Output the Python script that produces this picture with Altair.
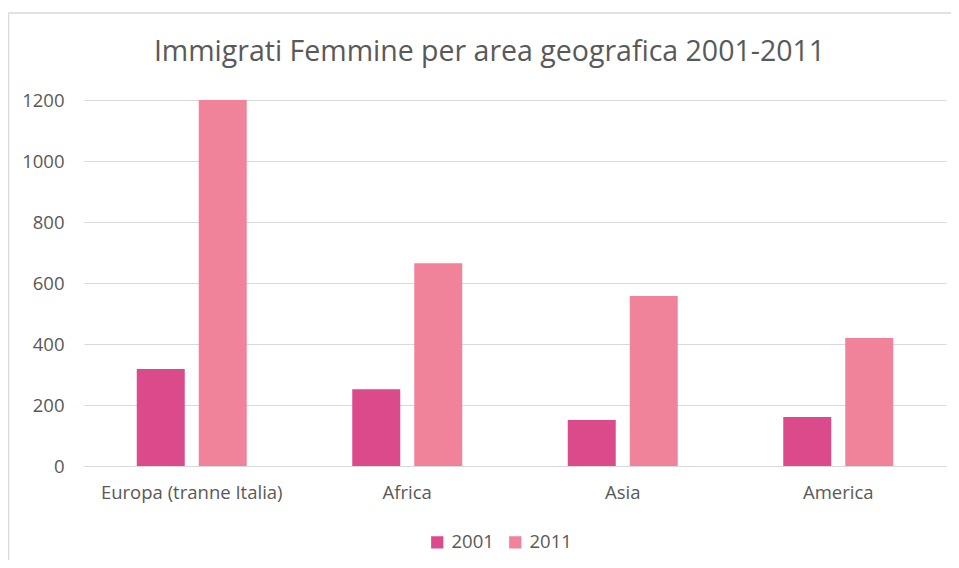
import altair as alt
import pandas as pd

regions = ["Europa (tranne Italia)", "Africa", "Asia", "America"]
years = ["2001", "2011"]
v2001 = [318, 252, 151, 161]
v2011 = [1200, 665, 557, 420]
title_text = "Immigrati Femmine per area geografica 2001-2011"

rows = []
for i, r in enumerate(regions):
    rows.append({"area": r, "anno": "2001", "valore": v2001[i]})
    rows.append({"area": r, "anno": "2011", "valore": v2011[i]})
df = pd.DataFrame(rows)

FONT = "Open Sans"
GREY = "#595959"
FS = 18.5

bars = alt.Chart(df).mark_bar().encode(
    x=alt.X("area:N", sort=regions, title=None,
            scale=alt.Scale(paddingInner=0, paddingOuter=0),
            axis=alt.Axis(labelAngle=0, ticks=False, domain=True, domainColor="#d9d9d9",
                          labelPadding=17, labelFontSize=FS, labelColor=GREY, labelFont=FONT,
                          labelLimit=400)),
    xOffset=alt.XOffset("anno:N", sort=years,
                        scale=alt.Scale(paddingInner=0.226, paddingOuter=0.851)),
    y=alt.Y("valore:Q", title=None,
            scale=alt.Scale(domain=[0, 1200], nice=False),
            axis=alt.Axis(values=[0, 200, 400, 600, 800, 1000, 1200], ticks=False, domain=False,
                          format="d", gridColor="#d9d9d9", labelPadding=20, labelFontSize=FS,
                          labelColor=GREY, labelFont=FONT)),
    color=alt.Color("anno:N", sort=years,
                    scale=alt.Scale(domain=years, range=["#DB4A8B", "#F08399"]),
                    legend=alt.Legend(title=None, orient="none", direction="horizontal",
                                      legendX=344, legendY=433, symbolType="square",
                                      symbolSize=150, labelFontSize=FS, labelColor=GREY,
                                      labelFont=FONT, columnPadding=12, symbolStrokeWidth=0,
                                      labelOffset=5)),
)

one = pd.DataFrame({"t": [title_text]})

border_top = alt.Chart(one).mark_rule(stroke="#d9d9d9", strokeWidth=1.5).encode(
    x=alt.value(-75.5), x2=alt.value(867), y=alt.value(-87))
border_left = alt.Chart(one).mark_rule(stroke="#d9d9d9", strokeWidth=1.5).encode(
    x=alt.value(-75.5), y=alt.value(-87), y2=alt.value(460))

title = alt.Chart(one).mark_text(
    font=FONT, fontSize=28.5, color=GREY, align="center", baseline="middle"
).encode(text="t:N", x=alt.value(405.5), y=alt.value(-48))

chart = alt.layer(border_top, border_left, title, bars).properties(
    width=862, height=366,
    autosize=alt.AutoSizeParams(type="none"),
    padding={"left": 76, "top": 92, "right": 5, "bottom": 94},
).configure_view(strokeWidth=0, stroke="transparent")

chart.save("out.html", embed_options={"renderer": "svg", "actions": False})
